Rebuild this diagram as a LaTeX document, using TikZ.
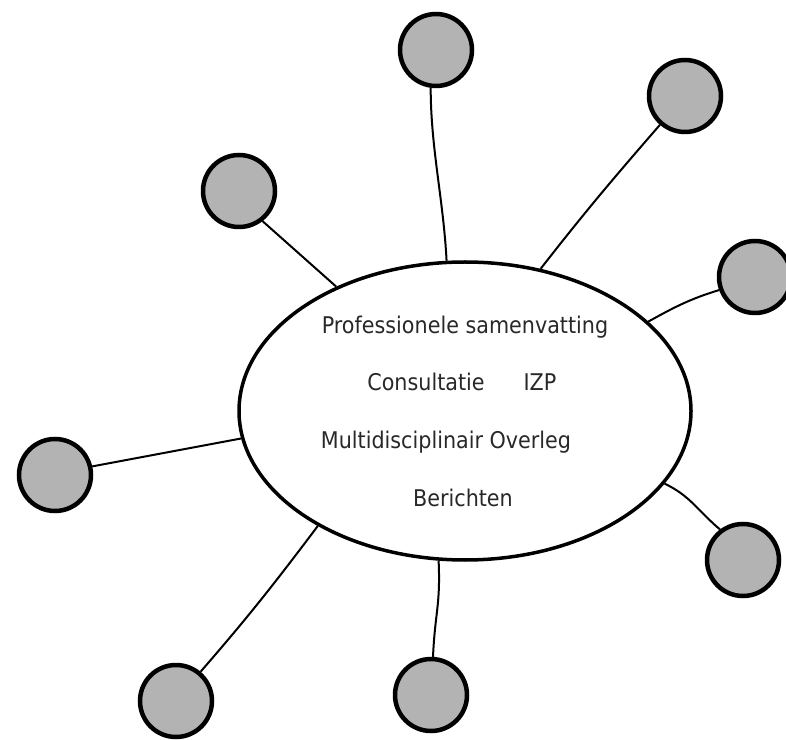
\documentclass[tikz,border=0pt]{standalone}
\usepackage{fontspec}
\setmainfont{DejaVu Sans}[FakeStretch=0.9]
\usetikzlibrary{shapes.geometric}
\definecolor{bol}{RGB}{179, 179, 179}
\definecolor{tekstkleur}{RGB}{40, 40, 40}

\begin{document}
\begin{tikzpicture}[x=1pt, y=1pt,
	hub/.style={ellipse, draw, line width=3.5pt, % ellips in het midden
				minimum width=452pt, minimum height=298pt},
	spoke/.style={circle, draw, line width=4.5pt, fill=bol, % grijze bollen
				minimum size=72pt, inner sep=0pt},
	link/.style={line width=2pt}, % lijnen naar de bollen
	tekst/.style={anchor=base, text=tekstkleur,
				font=\fontsize{23}{27}\selectfont},]
\useasboundingbox (0,0) rectangle (786,739);
% midden
\node[hub] (hub) at (465,328) {};
\node[tekst] (prof) at (465,405) {Professionele samenvatting};
\node[tekst] (cons) at (426,348) {Consultatie};
\node[tekst] (izp) at (540,348) {IZP};
\node[tekst] (mdo) at (446,290) {Multidisciplinair Overleg};
\node[tekst] (ber) at (463,233) {Berichten};
% bollen
\node[spoke] (c1) at (436,689) {};
\node[spoke] (c2) at (685,643) {};
\node[spoke] (c3) at (755,462) {};
\node[spoke] (c4) at (743,179) {};
\node[spoke] (c5) at (431,44) {};
\node[spoke] (c6) at (176,38) {};
\node[spoke] (c7) at (55,264) {};
\node[spoke] (c8) at (239,548) {};
% lijnen
\draw[link] (c1.262) .. controls +(0,-60) and +(-3,60) .. (hub.97);
\draw[link] (c2.229) to[out=229, in=52] (hub.62);
\draw[link] (c3.200) to[out=197, in=29] (hub.26);
\draw[link] (hub.-20) to[out=-25, in=140] (c4.127);
\draw[link] (hub.260) .. controls +(2,-45) and +(2,45) .. (c5.87);
\draw[link] (hub.218) to[out=233, in=49] (c6.50);
%\draw[link] (c7) -- (hub);
\draw[link] (c7.13) -- (hub.187);
\draw[link] (c8.-52) -- (hub.136);
\end{tikzpicture}
\end{document}
